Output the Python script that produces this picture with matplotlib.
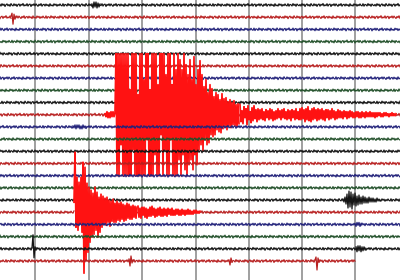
import numpy as np
import matplotlib
matplotlib.use("Agg")
import matplotlib.pyplot as plt

# 1) Dados lidos do sismograma (pixels, positivo = para cima)
n_linhas = 22
cores_linhas = ["#141414", "#b82020", "#22227a", "#22502a"]  # preto, vermelho, azul, verde
fim_ultima_linha = 355
grade_x = [35, 89, 142, 196, 249, 302, 355]

# ruido de fundo (padrao lido e repetido ao longo das linhas, 1 px por amostra)
ruido = [0.6, -1.1, 1.3, -0.4, 0.9, -1.5, 0.3, 1.1, -0.8, 0.5, -1.3, 1.4, -0.2, -0.9, 1.2,
         -0.6, 0.8, -1.4, 0.4, 1.0, -1.2, 0.7, -0.3, 1.5, -1.0, 0.2, -0.7, 1.3, -1.1, 0.5,
         0.9, -1.5, 0.6, -0.4, 1.2, -0.9, 1.1, -0.2, -1.3, 0.8, -0.5, 1.4, -1.2, 0.3, 0.7,
         -1.0, 1.0, -0.6, 0.4, -1.4, 1.3, -0.8, 0.1, -1.1, 1.2, -0.3, 0.9, -1.2, 0.5, -0.7,
         1.1, -0.4, -0.9, 1.3, -1.2, 0.6, 0.2, -1.0, 1.4, -0.5, 0.8, -1.3, 1.0, -0.1, -0.8]

# grande terremoto (linha 9), inicio x=105, 1 px por amostra
sismo_grande = [
    1, -2, 3, -3, 2, -3, 3, -2, 3, -2, 2,
    61, -61, 61, -61, 61, -30, 61, -61, 61, -61, 61, -61, 61, -61,
    25, -61, 61, -35, 61, -61, 61, -61, 20, -61, 61, -61, 61, -61,
    35, -61, 61, -25, 61, -61, 25, -61, 61, -61, 61, -40, 61, -61,
    30, -61, 61, -20, 61, -61, 61, -35, 40, -61, 61, -61, 61, -25,
    30, -61, 61, -61, 45, -61, 61, -45, 55, -61, 45, -40, 61, -55,
    50, -61, 40, -50, 55, -45, 35, -55, 58, -40, 30, -50, 45, -35,
    54, -30, 40, -36, 28, -25, 35, -30, 22, -28, 30, -20, 26, -22,
    18, -20, 22, -15, 20, -17, 15, -18, 21, -14, 16, -12, 17, -15,
    13, -11, 15, -13, 12, -10, 14, -11, 10, -12, 11, -9]
# cauda do grande terremoto, inicio x=240, 1 px por amostra
cauda_grande = [
    10, -7, 4, -9, 8, -3, 6, -10, 9, -5, 3, -8, 7, -6, 9, -4, 5, -7, 6, -5,
    5, -4, 6, -5, 3, -6, 5, -3, 4, -5, 6, -4, 5, -6, 3, -5, 4, -4, 6, -3,
    4, -5, 5, -3, 6, -4, 3, -5, 5, -4, 4, -6, 5, -3, 4, -5, 6, -4, 3, -5,
    6, -5, 7, -4, 5, -7, 6, -5, 8, -6, 4, -7, 6, -5, 7, -4, 5, -6, 6, -5,
    5, -4, 6, -5, 4, -6, 5, -3, 5, -5, 4, -4, 6, -3, 4, -5, 3, -4, 5, -3,
    4, -3, 3, -4, 4, -2, 3, -4, 3, -3, 4, -2, 3, -3, 2, -3, 3, -2, 3, -3,
    2, -3, 3, -2, 2, -3, 3, -2, 2, -2, 3, -2, 2, -2, 2, -3, 2, -2, 2, -1,
    2, -2, 1, -2, 2, -1, 2, -1, 1, -2, 1, -1, 2, -1, 1, -1, 1]

# segundo terremoto (linha 17), inicio x=74, 1 px por amostra
sismo_medio = [
    10, 60, -15, 35, -18, 30, -12, 35, -20, 50, -61, 45, -48, 29,
    -40, 25, -30, 22, -25, 19, -22, 25, -18, 20, -25, 15, -20, 18,
    -15, 16, -12, 14, -13, 15, -10, 12, -14, 11, -9, 13, -10, 9,
    -10, 11, -8, 9, -9, 10, -7, 8, -9, 7, -8, 9, -6, 8, -7, 6, -7, 7, -5, 6, -6, 5]
# cauda, inicio x=138, 1 px por amostra
cauda_medio = [
    6, -5, 4, -6, 5, -3, 5, -5, 4, -6, 3, -4, 5, -4, 6, -3, 4, -5, 3, -4,
    4, -3, 5, -4, 3, -4, 4, -3, 3, -4, 4, -2, 3, -3, 4, -3, 2, -3, 3, -2,
    3, -3, 2, -3, 3, -2, 2, -3, 2, -2, 3, -2, 2, -2, 1, -2, 2, -1, 2, -1, 1, -1, 1]

# pequenos eventos
ev_l0 = [1, -3, 3, -2, 3, -3, 2, -2, 1]
ev_l1 = [1, 4, -7, 3, -2, 1]
ev_l10 = [1, -1, 2, -2, 2, -1, 2, -2, 1, -2, 2, -1, 1, -1]
ev_l16 = [1, -2, 3, -4, 6, -8, 9, -7, 8, -9, 6, -5, 7, -6, 4, -5, 5, -4, 3, -4,
          4, -3, 3, -3, 2, -3, 3, -2, 2, -2, 2, -2, 1, -2, 2, -1, 1, -1]
ev_l18 = [1, -2, 2, -1, 2, -2, 1]
ev_l20a = [1, 14, -9, 2, -1]
ev_l20b = [2, -3, 3, -2, 3, -3, 2, -2, 2, -1]
ev_l21a = [2, -5, 5, -2, 1]
ev_l21b = [1, -4, 3, -1]
ev_l21c = [1, 4, -9, 3, -1]

# (linha, x inicial, passo, amostras)
eventos = [
    (9, 105, 1, sismo_grande), (9, 240, 1, cauda_grande),
    (17, 74, 1, sismo_medio), (17, 138, 1, cauda_medio),
    (0, 92, 1, ev_l0), (1, 11, 1, ev_l1), (10, 73, 1, ev_l10),
    (16, 343, 1, ev_l16), (18, 355, 1, ev_l18),
    (20, 32, 1, ev_l20a), (20, 356, 1, ev_l20b),
    (21, 129, 1, ev_l21a), (21, 229, 1, ev_l21b), (21, 315, 1, ev_l21c),
]

# 2) Figura
fig = plt.figure(figsize=(4, 2.8), dpi=100)
ax = fig.add_axes([0, 0, 1, 1])
ax.set_xlim(0, 400)
ax.set_ylim(280, 0)
ax.axis("off")

for gx in grade_x:
    ax.axvline(gx, color="#858585", lw=1.1, zorder=0)

y0, passo_y = 5, 12.19
ruido = np.array(ruido)

for k in range(n_linhas):
    base = y0 + k * passo_y
    cor = cores_linhas[k % 4]
    x_fim = fim_ultima_linha if k == n_linhas - 1 else 400
    xs = np.arange(0, x_fim + 0.01, 1.0)
    idx = (np.arange(len(xs)) + 17 * k) % len(ruido)
    ys = base - ruido[idx]
    evs = [e for e in eventos if e[0] == k]
    for _, x0, dx, amostras in evs:
        x1 = x0 + dx * (len(amostras) - 1)
        ys = np.where((xs > x0) & (xs < x1), np.nan, ys)
    ax.plot(xs, ys, color=cor, lw=0.85, zorder=k + 1)
    for _, x0, dx, amostras in evs:
        ex = x0 + dx * np.arange(len(amostras))
        ey = base - np.array(amostras)
        grande = k in (9, 17)
        ax.plot(ex, ey, color="#ff1212" if grande else cor,
                lw=1.25 if grande else 0.9, zorder=k + 1)

fig.savefig("out.png", dpi=100, facecolor="white")
